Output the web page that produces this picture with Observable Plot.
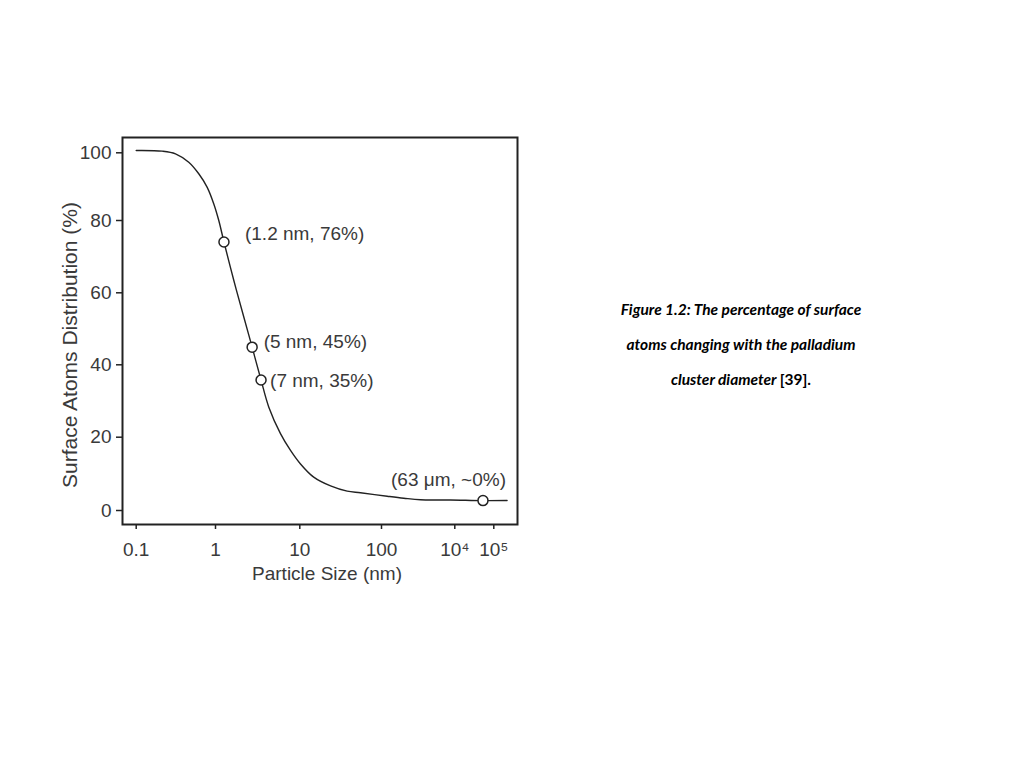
<!DOCTYPE html>
<html>
<head>
<meta charset="utf-8">
<script src="https://cdn.jsdelivr.net/npm/d3@7"></script>
<script src="https://cdn.jsdelivr.net/npm/@observablehq/plot@0.6"></script>
<style>
  html, body { margin: 0; padding: 0; background: #fff; }
  body { width: 1024px; height: 768px; position: relative; overflow: hidden; }
  #chart { position: absolute; left: 0; top: 0; }
  #caption {
    position: absolute; left: 601px; width: 280px; top: 292px;
    text-align: center; font-family: Lato, "Open Sans", sans-serif;
    font-weight: bold; font-style: italic; font-size: 15.5px; line-height: 35px; color: #000;
  }
  #caption .ref { font-style: normal; }
</style>
</head>
<body>
<div id="chart"></div>
<div id="caption">Figure 1.2: The percentage of surface<br>atoms changing with the palladium<br>cluster diameter <span class="ref">[39].</span></div>
<script>
// Curve (particle size in nm, surface atoms %)
const curveSize = [0.1, 0.213, 0.313, 0.46, 0.615, 0.786, 0.952, 1.094, 1.26, 1.65, 2.17, 2.72, 3.47, 4.29, 5.90, 7.76, 10.2, 14.8, 23.8, 38.0, 55.3, 143, 406, 1159, 7640, 52800, 221000];
const curvePct  = [100.7, 100.5, 99.7, 97.2, 93.8, 89.8, 84.9, 80.0, 74.05, 63.4, 53.2, 44.9, 35.8, 28.3, 21.0, 16.4, 12.7, 9.1, 6.7, 5.27, 4.83, 3.9, 3.36, 2.92, 2.87, 2.7, 2.73];

// Marked points
const pointSize  = [1.26, 2.72, 3.47, 52800];
const pointPct   = [74.05, 44.9, 35.8, 2.7];
const pointLabel = ["(1.2 nm, 76%)", "(5 nm, 45%)", "(7 nm, 35%)", "(63 μm, ~0%)"];

// Axes
const xTicks = [0.1, 1, 10, 100, 1e4, 1e5];
const xTickLabels = ["0.1", "1", "10", "100", "10⁴", "10⁵"];
const yTicks = [0, 20, 40, 60, 80, 100];
const xLabel = "Particle Size (nm)";
const yLabel = "Surface Atoms Distribution (%)";

const curve = curveSize.map((s, i) => ({size: s, pct: curvePct[i]}));
const points = pointSize.map((s, i) => ({size: s, pct: pointPct[i], label: pointLabel[i]}));

const ink = "#222";
const textInk = "#3a3a3a";

const label = (i, opts) => Plot.text([points[i]], {
  x: "size", y: "pct", text: "label", fill: textInk, textAnchor: "start", ...opts
});

const plot = Plot.plot({
  width: 540,
  height: 600,
  marginLeft: 122,
  marginRight: 23,
  marginTop: 137,
  marginBottom: 76,
  style: {fontFamily: "'Liberation Sans', Arial, sans-serif", fontSize: "19px", background: "white", color: textInk},
  x: {
    type: "log",
    // hand-drawn axis: decades are not evenly spaced, so the scale is piecewise
    domain: [0.0666, 0.1, 1, 10, 100, 1e4, 1e5, 4.12e5],
    range: [122, 135.7, 215, 299.3, 381, 454.3, 493.3, 517]
  },
  y: {
    type: "linear",
    domain: [-3.82, 0, 20, 40, 60, 80, 100, 104.67],
    range: [524, 510, 436.7, 364.3, 292.3, 220, 152.3, 137]
  },
  marks: [
    Plot.axisX({ticks: xTicks, tickFormat: d => xTickLabels[xTicks.indexOf(d)], tickSize: 5, tickPadding: 13, label: null, stroke: ink, strokeWidth: 1.5, fill: textInk}),
    Plot.axisY({ticks: yTicks, tickSize: 6, tickPadding: 5, label: null, stroke: ink, strokeWidth: 1.5, fill: textInk}),
    Plot.frame({stroke: ink, strokeWidth: 2}),
    Plot.line(curve, {x: "size", y: "pct", curve: "catmull-rom", stroke: ink, strokeWidth: 1.4}),
    Plot.dot(points, {x: "size", y: "pct", r: 5, fill: "white", stroke: ink, strokeWidth: 1.5}),
    label(0, {dx: 21, dy: -8}),
    label(1, {dx: 11.5, dy: -5}),
    label(2, {dx: 9, dy: 0.5}),
    label(3, {dx: 23, dy: -21, textAnchor: "end"}),
    Plot.text([yLabel], {text: d => d, frameAnchor: "left", textAnchor: "middle", lineAnchor: "middle", rotate: -90, dx: -52, dy: 14, fill: textInk, fontSize: 21}),
    Plot.text([xLabel], {text: d => d, frameAnchor: "bottom", textAnchor: "middle", lineAnchor: "middle", dx: 7, dy: 49, fill: textInk})
  ]
});
document.getElementById("chart").appendChild(plot);
</script>
</body>
</html>
